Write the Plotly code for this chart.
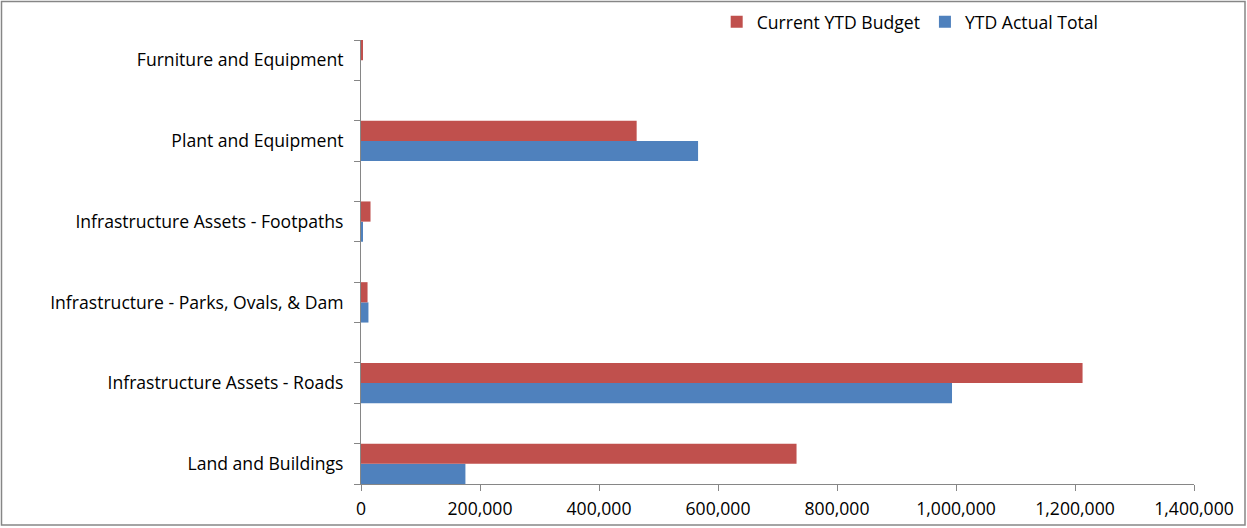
import plotly.graph_objects as go

# Capital expenditure by asset class
categories = [
    "Land and Buildings",
    "Infrastructure Assets - Roads",
    "Infrastructure - Parks, Ovals, & Dam",
    "Infrastructure Assets - Footpaths",
    "Plant and Equipment",
    "Furniture and Equipment",
]
ytd_actual = [175500, 993300, 12500, 3000, 566500, 0]
ytd_budget = [732000, 1212700, 11000, 16000, 463300, 3000]

x_ticks = [0, 200000, 400000, 600000, 800000, 1000000, 1200000, 1400000]

RED = "#C0504D"
BLUE = "#4F81BD"
AXIS = "#868686"
FONT = "Open Sans"
FSIZE = 17.6

n = len(categories)
y_range = [-0.25, n - 0.75]
# boundary ticks above and below each bar pair
band_ticks = [c + d for c in range(n) for d in (-0.25, 0.25)]

fig = go.Figure()
fig.add_trace(go.Bar(
    name="YTD Actual Total", y=categories, x=ytd_actual, orientation="h",
    marker=dict(color=BLUE, line=dict(width=0)),
))
fig.add_trace(go.Bar(
    name="Current YTD Budget", y=categories, x=ytd_budget, orientation="h",
    marker=dict(color=RED, line=dict(width=0)),
))
# carrier trace for the overlay axis holding the band tick marks
fig.add_trace(go.Scatter(x=[None], y=[None], yaxis="y2", showlegend=False,
                         hoverinfo="skip", mode="markers"))

fig.update_layout(
    width=1247, height=528,
    margin=dict(l=361, r=53, t=40, b=44, autoexpand=False),
    paper_bgcolor="white", plot_bgcolor="white",
    barmode="group", bargap=0.5, bargroupgap=0,
    font=dict(family=FONT, size=FSIZE, color="#000000"),
    showlegend=True,
    legend=dict(
        orientation="h", traceorder="reversed",
        x=0.427, xanchor="left", y=1.041, yanchor="middle",
        font=dict(family=FONT, size=FSIZE, color="#000000"),
        itemwidth=30, bgcolor="rgba(0,0,0,0)",
    ),
    xaxis=dict(
        range=[0, 1400000], tickvals=x_ticks, tickformat=",d",
        showgrid=False, zeroline=False,
        showline=True, linecolor=AXIS, linewidth=1,
        ticks="outside", ticklen=6, tickcolor=AXIS, tickwidth=1,
        ticklabelstandoff=3,
        tickfont=dict(family=FONT, size=FSIZE, color="#000000"),
    ),
    yaxis=dict(
        type="category", categoryorder="array", categoryarray=categories,
        range=y_range, showgrid=False, zeroline=False,
        showline=True, linecolor=AXIS, linewidth=1,
        ticks="", ticklabelstandoff=13,
        tickfont=dict(family=FONT, size=FSIZE, color="#000000"),
    ),
    yaxis2=dict(
        overlaying="y", anchor="x", side="left",
        range=y_range, tickmode="array", tickvals=band_ticks,
        showticklabels=False, showgrid=False, zeroline=False,
        showline=False,
        ticks="outside", ticklen=6, tickcolor=AXIS, tickwidth=1,
    ),
    shapes=[dict(
        type="rect", xref="paper", yref="paper",
        x0=(1.5 - 361) / 833, x1=(1245 - 361) / 833,
        y0=(484 - 525) / 444, y1=(484 - 1.5) / 444,
        line=dict(color=AXIS, width=1.5), fillcolor="rgba(0,0,0,0)", layer="below",
    )],
)

fig.write_html("out.html")
